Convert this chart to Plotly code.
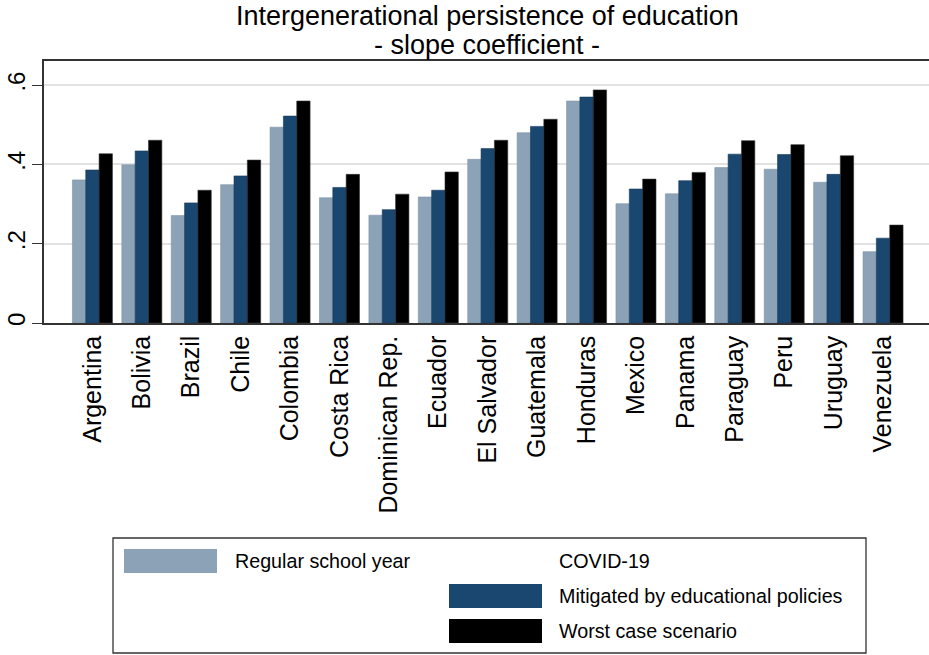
import plotly.graph_objects as go

countries = ["Argentina", "Bolivia", "Brazil", "Chile", "Colombia", "Costa Rica",
             "Dominican Rep.", "Ecuador", "El Salvador", "Guatemala", "Honduras",
             "Mexico", "Panama", "Paraguay", "Peru", "Uruguay", "Venezuela"]
regular = [0.361, 0.399, 0.271, 0.349, 0.494, 0.316, 0.272, 0.318, 0.413, 0.480,
           0.560, 0.301, 0.326, 0.392, 0.388, 0.355, 0.180]
mitigated = [0.386, 0.434, 0.303, 0.371, 0.522, 0.342, 0.286, 0.335, 0.440, 0.496,
             0.570, 0.338, 0.359, 0.426, 0.425, 0.375, 0.214]
worst = [0.427, 0.461, 0.335, 0.411, 0.560, 0.375, 0.325, 0.381, 0.461, 0.514,
         0.588, 0.363, 0.380, 0.460, 0.450, 0.422, 0.247]
series_names = ["Regular school year", "Mitigated by educational policies", "Worst case scenario"]
ytick_vals = [0, 0.2, 0.4, 0.6]
ytick_text = ["0", ".2", ".4", ".6"]

LIGHT = "#8CA3B7"
NAVY = "#1A476F"
BLACK = "#000000"
FONT = "Liberation Sans, Arial, sans-serif"

W, H = 929, 655
L, R, T, B = 44, 0, 61, 332
PW, PH = W - L - R, H - T - B


def px(x):
    return (x - L) / PW


def py(y):
    return (H - B - y) / PH


fig = go.Figure()
for name, vals, col, lcol in [(series_names[0], regular, LIGHT, "#7d93a8"),
                              (series_names[1], mitigated, NAVY, "#143a5c"),
                              (series_names[2], worst, BLACK, "#333333")]:
    fig.add_trace(go.Bar(x=countries, y=vals, name=name,
                         marker=dict(color=col, line=dict(color=lcol, width=0.6))))

fig.update_layout(
    width=W, height=H,
    margin=dict(l=L, r=R, t=T, b=B),
    paper_bgcolor="white", plot_bgcolor="white",
    barmode="group", bargap=0.19, bargroupgap=0,
    showlegend=False,
    font=dict(family=FONT, color="black"),
)
fig.update_xaxes(
    type="category", range=[-0.98, 16.93],
    showline=True, linecolor="#333333", linewidth=1.5, mirror=True,
    ticks="", tickangle=-90, tickfont=dict(size=25, family=FONT),
    ticklabelstandoff=1, showgrid=False, zeroline=False,
)
fig.update_yaxes(
    range=[0, 0.661], tickvals=ytick_vals, ticktext=ytick_text,
    showline=True, linecolor="#333333", linewidth=1.5,
    ticks="outside", ticklen=10, tickcolor="#333333", tickwidth=1.2,
    tickangle=-90, tickfont=dict(size=24, family=FONT), ticklabelstandoff=-2,
    showgrid=True, gridcolor="#e2e2e2", gridwidth=1.5, zeroline=False,
)

ann = []
ann.append(dict(text="Intergenerational persistence of education", x=px(487), y=py(16),
                xref="paper", yref="paper", showarrow=False, xanchor="center", yanchor="middle",
                font=dict(size=27, family=FONT, color="black")))
ann.append(dict(text="- slope coefficient -", x=px(487), y=py(45),
                xref="paper", yref="paper", showarrow=False, xanchor="center", yanchor="middle",
                font=dict(size=27, family=FONT, color="black")))

shapes = []
# legend box
shapes.append(dict(type="rect", xref="paper", yref="paper", x0=px(113), x1=px(866),
                   y0=py(653), y1=py(538), line=dict(color="#333333", width=1.3),
                   fillcolor="white"))
legend_items = [(LIGHT, 124, 217, 549, 573, series_names[0], 233, 561),
                (NAVY, 449, 542, 584, 608, series_names[1], 557, 596),
                (BLACK, 449, 542, 619, 643, series_names[2], 557, 631)]
for col, x0, x1, y0, y1, txt, tx, ty in legend_items:
    shapes.append(dict(type="rect", xref="paper", yref="paper", x0=px(x0), x1=px(x1),
                       y0=py(y1), y1=py(y0), line=dict(width=0), fillcolor=col))
    ann.append(dict(text=txt, x=px(tx), y=py(ty), xref="paper", yref="paper",
                    showarrow=False, xanchor="left", yanchor="middle",
                    font=dict(size=19.7, family=FONT, color="black")))
ann.append(dict(text="COVID-19", x=px(557), y=py(561), xref="paper", yref="paper",
                showarrow=False, xanchor="left", yanchor="middle",
                font=dict(size=19.7, family=FONT, color="black")))

fig.update_layout(annotations=ann, shapes=shapes)
fig.write_html("out.html", config={"displayModeBar": False},
               post_script="document.body.style.margin='0px';document.body.style.padding='0px';")
